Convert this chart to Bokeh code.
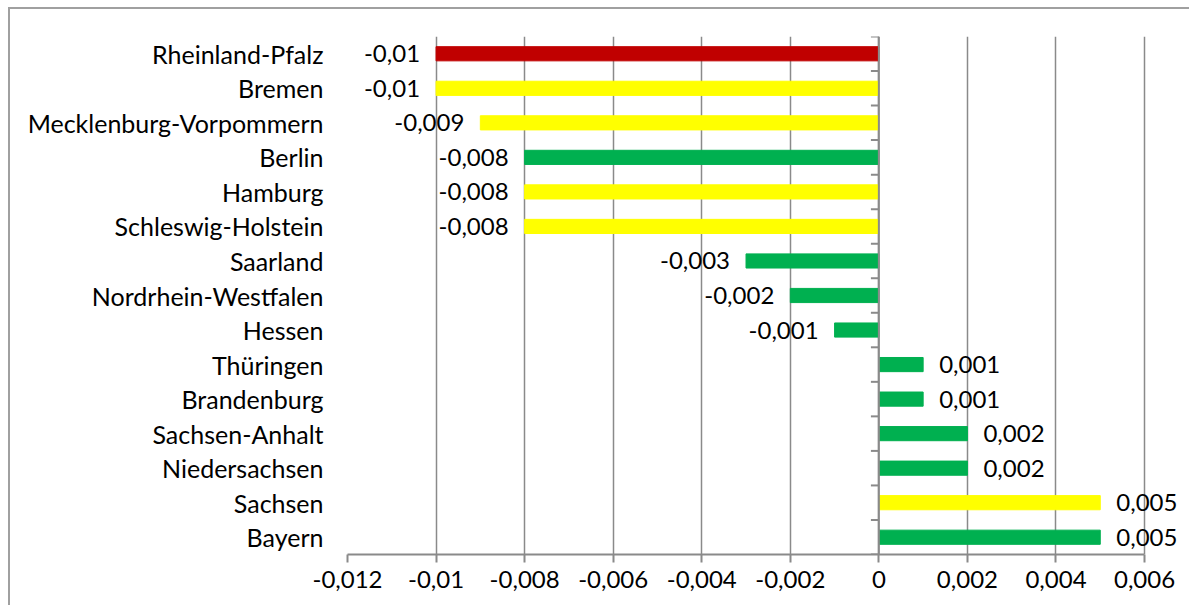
from bokeh.plotting import figure
from bokeh.layouts import column
from bokeh.models import FactorRange, FixedTicker, CustomJSTickFormatter, ColumnDataSource, LabelSet
from bokeh.core.properties import value
from bokeh.embed import file_html
from bokeh.resources import INLINE

# Data (top to bottom as shown)
states = ["Rheinland-Pfalz", "Bremen", "Mecklenburg-Vorpommern", "Berlin", "Hamburg",
          "Schleswig-Holstein", "Saarland", "Nordrhein-Westfalen", "Hessen", "Thüringen",
          "Brandenburg", "Sachsen-Anhalt", "Niedersachsen", "Sachsen", "Bayern"]
values = [-0.01, -0.01, -0.009, -0.008, -0.008, -0.008, -0.003, -0.002, -0.001,
          0.001, 0.001, 0.002, 0.002, 0.005, 0.005]
status = ["red", "yellow", "yellow", "green", "yellow", "yellow", "green", "green", "green",
          "green", "green", "green", "green", "yellow", "green"]
x_ticks = [-0.012, -0.01, -0.008, -0.006, -0.004, -0.002, 0, 0.002, 0.004, 0.006]

palette = {"red": "#C00000", "yellow": "#FFFF00", "green": "#00B050"}
FONT = "Lato"
FSIZE = "24px"
GRID = "#8a8a8a"
X_END = 0.00706  # frame extends a little past the last tick so value labels are not clipped

labels = [f"{v:g}".replace(".", ",") for v in values]
src = ColumnDataSource(dict(state=states, value=values, color=[palette[s] for s in status]))

p = figure(width=1181, height=598, output_backend="svg", toolbar_location=None,
           y_range=FactorRange(factors=list(reversed(states))),
           x_range=(x_ticks[0], X_END),
           min_border_left=337, min_border_right=0, min_border_top=27, min_border_bottom=53)
p.styles = {"border-left": "2px solid #a0a0a0", "border-top": "2px solid #a0a0a0"}
p.outline_line_color = None

# grid
p.xgrid.ticker = FixedTicker(ticks=x_ticks)
p.xgrid.grid_line_color = GRID
p.xgrid.grid_line_width = 1.5
p.xgrid.bounds = (x_ticks[0], x_ticks[-1])
p.ygrid.grid_line_color = None

# bars
p.hbar(y="state", right="value", left=0, height=0.41, color="color", source=src)

# value labels
for cond, align, off in ((lambda v: v < 0, "right", -16), (lambda v: v >= 0, "left", 16)):
    idx = [i for i, v in enumerate(values) if cond(v)]
    lsrc = ColumnDataSource(dict(x=[values[i] for i in idx], y=[states[i] for i in idx],
                                 t=[labels[i] for i in idx]))
    p.add_layout(LabelSet(x="x", y="y", text="t", source=lsrc, x_offset=off,
                          text_align=align, text_baseline="middle",
                          text_font=value(FONT), text_font_size=value(FSIZE),
                          text_color="#000000"))

# zero axis line with category boundary ticks
p.segment(x0=[0], x1=[0], y0=[(states[-1], -0.5)], y1=[(states[0], 0.5)],
          line_color=GRID, line_width=2)
bounds = [(s, -0.5) for s in states] + [(states[0], 0.5)]
p.segment(x0=[0] * len(bounds), x1=[-0.00018] * len(bounds), y0=bounds, y1=bounds,
          line_color=GRID, line_width=2)

# x axis
xa = p.xaxis[0]
xa.ticker = FixedTicker(ticks=x_ticks)
xa.bounds = (x_ticks[0], x_ticks[-1])
xa.formatter = CustomJSTickFormatter(code="return (Math.round(tick*1000)/1000).toString().replace('.', ',');")
xa.axis_line_color = GRID
xa.axis_line_width = 2
xa.major_tick_line_color = GRID
xa.major_tick_line_width = 2
xa.major_tick_out = 8
xa.major_tick_in = 0
xa.minor_tick_line_color = None
xa.major_label_standoff = 8
xa.major_label_text_font = FONT
xa.major_label_text_font_size = FSIZE
xa.major_label_text_color = "#000000"

# y axis
ya = p.yaxis[0]
ya.axis_line_color = None
ya.major_tick_line_color = None
ya.major_tick_out = 0
ya.major_tick_in = 0
ya.major_label_standoff = 24
ya.major_label_text_font = FONT
ya.major_label_text_font_size = "25px"
ya.major_label_text_color = "#000000"

layout = column(p, styles={"padding-left": "8px", "padding-top": "7px"})
open("out.html", "w").write(file_html(layout, INLINE))
